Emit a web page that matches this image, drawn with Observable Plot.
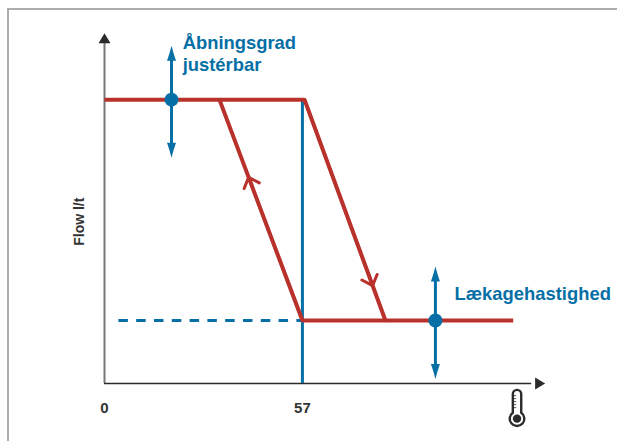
<!DOCTYPE html>
<html>
<head>
<meta charset="utf-8">
<style>
html,body{margin:0;padding:0;background:#fff;width:617px;height:441px;overflow:hidden}
#frame{position:absolute;left:7px;top:8px;width:610px;height:433px;border-top:2px solid #acacac;border-left:2px solid #acacac;box-sizing:border-box}
#chart{position:absolute;left:0;top:0}
svg{display:block}
</style>
<script src="https://cdn.jsdelivr.net/npm/d3@7"></script>
<script src="https://cdn.jsdelivr.net/npm/@observablehq/plot@0.6"></script>
</head>
<body>
<div id="frame"></div>
<div id="chart"></div>
<script>
// Values
const tempTicks = [0, 57];
const flowOpen = 100;
const flowLeak = 22.2;
const tempSet = 57;
const closingTemp = [0, 57.6, 80.9, 117.7];
const closingFlow = [flowOpen, flowOpen, flowLeak, flowLeak];
const openingTemp = [80.9, 57, 33.1];
const openingFlow = [flowLeak, flowLeak, flowOpen];
const openAdjustTemp = 19.3;
const openAdjustFlow = [119, 79.5];   // arrow tips: up, down
const leakAdjustTemp = 95.3;
const leakAdjustFlow = [41.2, 1.6];   // arrow tips: up, down
const dashStartTemp = 4;
const labels = [
  {t: 22.5, f: 118, s: "Åbningsgrad"},
  {t: 22.5, f: 110, s: "justérbar"},
  {t: 100.8, f: 29.4, s: "Lækagehastighed"}
];

const BLUE = "#066fa6", RED = "#b9312b", DARK = "#2b2b2b";
const FONT = "'Liberation Sans', Arial, sans-serif";

// Custom symbols, origin at the tip
const head = (w, h) => ({draw(c) {
  c.moveTo(0, 0);
  c.lineTo(w / 2, h);
  c.lineTo(-w / 2, h);
  c.closePath();
}});
const blueHead = {draw(c) {
  c.moveTo(0, 0);
  c.quadraticCurveTo(2, 8, 4.5, 15);
  c.lineTo(-4.5, 15);
  c.quadraticCurveTo(-2, 8, 0, 0);
  c.closePath();
}};
const thermoOutline = {draw(c) {
  c.moveTo(-4.2, -13.6);
  c.arc(0, -13.6, 4.2, Math.PI, 0);
  c.lineTo(4.2, 5);
  c.arc(0, 11, 7.3, -Math.PI / 2 + 0.613, -Math.PI / 2 - 0.613 + 2 * Math.PI);
  c.closePath();
}};
const thermoFill = {draw(c) {
  c.arc(0, 11, 4.2, 0, 2 * Math.PI);
  c.closePath();
}};
const thermoTicks = {draw(c) {
  [-12, -9, -6, -3, 0].forEach(y => { c.moveTo(-3, y); c.lineTo(-0.8, y); });
}};

const plot = Plot.plot({
  width: 617, height: 441,
  marginLeft: 104, marginRight: 72, marginTop: 31, marginBottom: 58,
  x: {domain: [0, 127], label: null},
  y: {domain: [0, 124], axis: null, label: null},
  style: {fontFamily: FONT, background: "transparent", overflow: "visible"},
  marks: [
    Plot.axisX({ticks: tempTicks, tickSize: 0, tickPadding: 19, label: null, fontSize: 15, fontWeight: "bold", color: "#333", tickFormat: d => String(d)}),
    Plot.text(["Flow l/t"], {x: -7.2, y: 57, text: d => d, rotate: -90, fontSize: 14, fontWeight: "bold", fill: "#333"}),

    Plot.ruleX([0], {y1: 0, y2: 120, stroke: "#777", strokeWidth: 2}),
    Plot.ruleY([0], {x1: 0, x2: 123, stroke: DARK, strokeWidth: 1.6}),
    Plot.dot([0], {x: 0, y: 123.4, symbol: head(12, 10), r: 5, fill: DARK, stroke: "none"}),
    Plot.dot([0], {x: 126.9, y: 0, symbol: head(12, 10), r: 5, fill: DARK, stroke: "none", rotate: 90}),

    Plot.line([0, 1], {x: [dashStartTemp, tempSet], y: [flowLeak, flowLeak], stroke: BLUE, strokeWidth: 3, strokeDasharray: "9.5,8.3", strokeLinecap: "butt"}),
    Plot.ruleX([tempSet], {y1: 0, y2: flowOpen, stroke: BLUE, strokeWidth: 3}),

    Plot.line(closingTemp, {x: closingTemp, y: closingFlow, stroke: RED, strokeWidth: 4, strokeLinecap: "butt", strokeLinejoin: "miter"}),
    Plot.line(openingTemp, {x: openingTemp, y: openingFlow, stroke: RED, strokeWidth: 4, strokeLinecap: "butt", strokeLinejoin: "miter"}),
    Plot.arrow([0], {x1: openingTemp[1], y1: openingFlow[1], x2: 41.5, y2: 72.6, bend: 0, headLength: 6, headAngle: 85, stroke: RED, strokeWidth: 3}),
    Plot.arrow([0], {x1: closingTemp[1], y1: closingFlow[1], x2: 77.2, y2: 34.5, bend: 0, headLength: 6, headAngle: 85, stroke: RED, strokeWidth: 3}),

    Plot.ruleX([openAdjustTemp], {y1: openAdjustFlow[1] + 3, y2: openAdjustFlow[0] - 3, stroke: BLUE, strokeWidth: 3}),
    Plot.ruleX([leakAdjustTemp], {y1: leakAdjustFlow[1] + 3, y2: leakAdjustFlow[0] - 3, stroke: BLUE, strokeWidth: 3}),
    Plot.dot([0], {x: openAdjustTemp, y: openAdjustFlow[0], symbol: blueHead, r: 5, fill: BLUE, stroke: "none"}),
    Plot.dot([0], {x: openAdjustTemp, y: openAdjustFlow[1], symbol: blueHead, r: 5, fill: BLUE, stroke: "none", rotate: 180}),
    Plot.dot([0], {x: leakAdjustTemp, y: leakAdjustFlow[0], symbol: blueHead, r: 5, fill: BLUE, stroke: "none"}),
    Plot.dot([0], {x: leakAdjustTemp, y: leakAdjustFlow[1], symbol: blueHead, r: 5, fill: BLUE, stroke: "none", rotate: 180}),
    Plot.dot([0], {x: openAdjustTemp, y: flowOpen, r: 7, fill: BLUE, stroke: "none"}),
    Plot.dot([0], {x: leakAdjustTemp, y: flowLeak, r: 7, fill: BLUE, stroke: "none"}),

    Plot.text(labels, {x: "t", y: "f", text: "s", textAnchor: "start", lineAnchor: "bottom", fontSize: 18.4, fontWeight: "bold", fill: BLUE}),

    Plot.dot([0], {x: 118.8, y: -8.5, symbol: thermoOutline, r: 5, fill: "none", stroke: DARK, strokeWidth: 2.4}),
    Plot.dot([0], {x: 118.8, y: -8.5, symbol: thermoFill, r: 5, fill: DARK, stroke: "none"}),
    Plot.dot([0], {x: 118.8, y: -8.5, symbol: thermoTicks, r: 5, fill: "none", stroke: DARK, strokeWidth: 0.8})
  ]
});
document.getElementById("chart").appendChild(plot);
</script>
</body>
</html>
